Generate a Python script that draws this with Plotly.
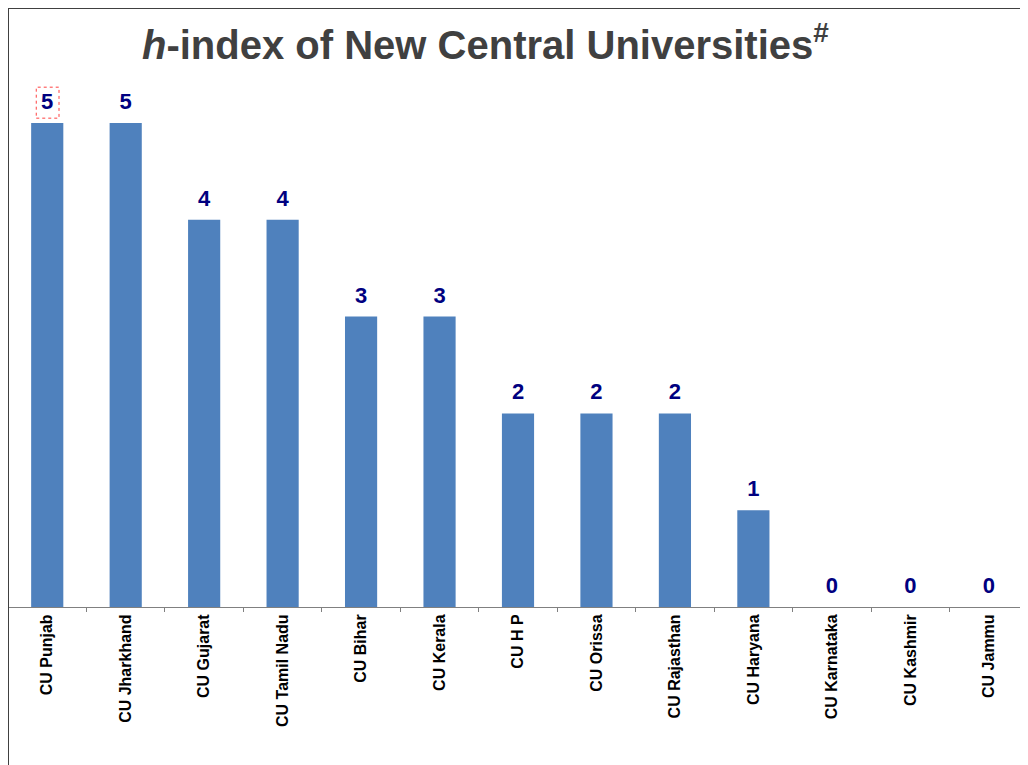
import plotly.graph_objects as go

categories = ["CU Punjab", "CU Jharkhand", "CU Gujarat", "CU Tamil Nadu", "CU Bihar",
              "CU Kerala", "CU H P", "CU Orissa", "CU Rajasthan", "CU Haryana",
              "CU Karnataka", "CU Kashmir", "CU Jammu"]
h_index = [5, 5, 4, 4, 3, 3, 2, 2, 2, 1, 0, 0, 0]

W, H = 1020, 757
B = 158
plot_h = H - B

fig = go.Figure()
fig.add_trace(go.Bar(
    x=categories, y=h_index,
    marker=dict(color="#4F81BD", line=dict(width=0)),
    width=0.41,
    hoverinfo="x+y",
))
# data labels, lifted a little above the bar tops
fig.add_trace(go.Scatter(
    x=categories, y=h_index,
    mode="markers+text",
    marker=dict(size=12, opacity=0),
    text=[str(v) for v in h_index],
    textposition="top center",
    textfont=dict(family="Liberation Sans", size=22, color="#000080", weight="bold"),
    cliponaxis=False,
    hoverinfo="skip",
))

fig.update_layout(
    width=W, height=H,
    margin=dict(l=0, r=0, t=0, b=B, pad=0),
    paper_bgcolor="white", plot_bgcolor="white",
    showlegend=False,
    xaxis=dict(
        type="category", tickangle=-90,
        tickfont=dict(family="Liberation Sans", size=16, color="black", weight="bold"),
        showline=True, linecolor="#808080", linewidth=1,
        ticks="outside", tickson="boundaries", ticklen=4, tickcolor="#808080",
        showgrid=False, range=[-0.5, 12.5],
    ),
    yaxis=dict(range=[0, plot_h / 96.8], visible=False, showgrid=False),
    annotations=[dict(
        text="<b><i>h</i>-index of New Central Universities<sup>#</sup></b>",
        x=(485 - 8) / W, xref="paper", y=(599 - 34) / plot_h, yref="paper", showarrow=False,
        font=dict(family="Liberation Sans", size=40, color="#404040"),
        xanchor="center", yanchor="middle",
    )],
)

# frame lines of the original slide
fig.add_shape(type="line", xref="paper", yref="paper",
              x0=0, x1=0, y0=-B / plot_h, y1=1, line=dict(color="#404040", width=2))
fig.add_shape(type="line", xref="paper", yref="paper",
              x0=0, x1=1, y0=1, y1=1, line=dict(color="#404040", width=2))
# dotted selection box around first data label
fig.add_shape(type="rect", xref="x", yref="y",
              x0=-0.14, x1=0.15, y0=5.05, y1=5.37,
              line=dict(color="#FF4040", width=1, dash="dot"))

fig.write_html("out.html")
